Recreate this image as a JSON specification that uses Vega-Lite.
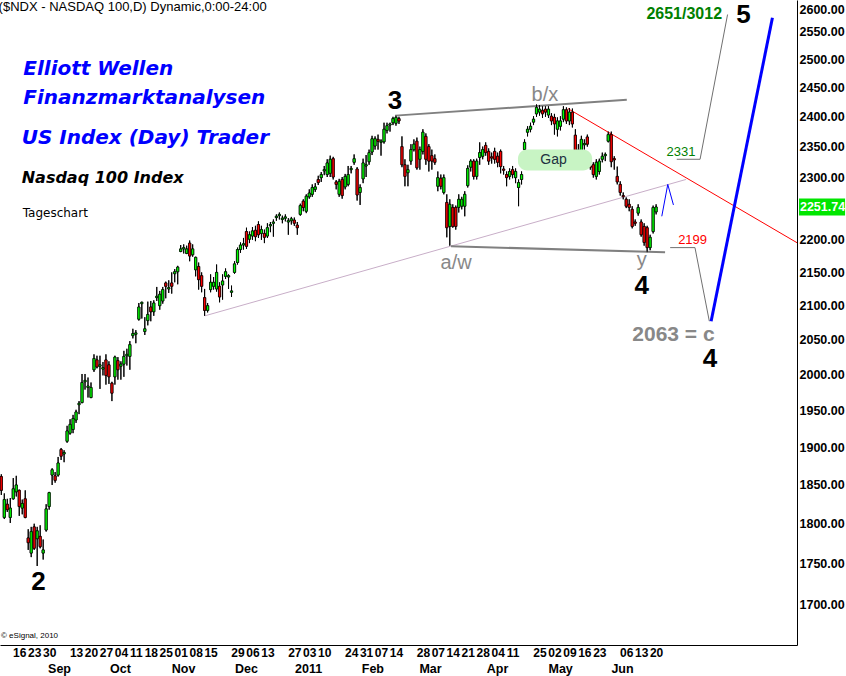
{
  "$schema": "https://vega.github.io/schema/vega-lite/v6.json",
  "width": 797,
  "height": 645,
  "autosize": {"type": "none"},
  "padding": {"left": 0, "top": 0, "right": 49, "bottom": 31},
  "background": "white",
  "config": {"view": {"stroke": null}, "text": {"font": "Liberation Sans"}, "axis": {"labelOverlap": false}},
  "resolve": {"axis": {"x": "independent"}},
  "datasets": {
    "candles": [
      {"i":0,"o":1861,"h":1864,"l":1837,"c":1843},{"i":1,"o":1808,"h":1839,"l":1806,"c":1831},{"i":2,"o":1825,"h":1832,"l":1815,"c":1818},{"i":3,"o":1808,"h":1833,"l":1801,"c":1820},{"i":4,"o":1832,"h":1859,"l":1831,"c":1845},{"i":5,"o":1841,"h":1862,"l":1835,"c":1850},{"i":6,"o":1843,"h":1844,"l":1810,"c":1822},{"i":7,"o":1820,"h":1831,"l":1812,"c":1826},{"i":8,"o":1832,"h":1843,"l":1807,"c":1808},{"i":9,"o":1782,"h":1793,"l":1767,"c":1776},
      {"i":10,"o":1763,"h":1796,"l":1758,"c":1790},{"i":11,"o":1796,"h":1800,"l":1767,"c":1769},{"i":12,"o":1781,"h":1796,"l":1747,"c":1791},{"i":13,"o":1784,"h":1798,"l":1769,"c":1771},{"i":14,"o":1763,"h":1780,"l":1755,"c":1767},{"i":15,"o":1792,"h":1825,"l":1790,"c":1819},{"i":16,"o":1822,"h":1841,"l":1818,"c":1840},{"i":17,"o":1863,"h":1872,"l":1850,"c":1870},{"i":18,"o":1862,"h":1867,"l":1853,"c":1856},{"i":19,"o":1863,"h":1887,"l":1861,"c":1879},
      {"i":20,"o":1897,"h":1899,"l":1883,"c":1888},{"i":21,"o":1891,"h":1896,"l":1880,"c":1893},{"i":22,"o":1908,"h":1929,"l":1906,"c":1922},{"i":23,"o":1919,"h":1938,"l":1917,"c":1931},{"i":24,"o":1924,"h":1944,"l":1919,"c":1939},{"i":25,"o":1937,"h":1951,"l":1933,"c":1948},{"i":26,"o":1958,"h":1963,"l":1945,"c":1960},{"i":27,"o":1961,"h":2001,"l":1960,"c":1989},{"i":28,"o":1990,"h":2001,"l":1979,"c":1992},{"i":29,"o":1982,"h":1996,"l":1968,"c":1984},
      {"i":30,"o":1968,"h":1989,"l":1967,"c":1982},{"i":31,"o":2007,"h":2029,"l":2004,"c":2023},{"i":32,"o":2021,"h":2027,"l":2009,"c":2011},{"i":33,"o":2012,"h":2027,"l":1980,"c":2014},{"i":34,"o":2008,"h":2018,"l":1999,"c":2010},{"i":35,"o":2021,"h":2029,"l":1986,"c":1999},{"i":36,"o":2014,"h":2019,"l":1987,"c":1997},{"i":37,"o":1988,"h":1990,"l":1963,"c":1974},{"i":38,"o":1997,"h":2027,"l":1986,"c":2025},{"i":39,"o":2020,"h":2025,"l":1993,"c":2007},
      {"i":40,"o":2012,"h":2019,"l":1993,"c":2015},{"i":41,"o":2015,"h":2034,"l":1997,"c":2026},{"i":42,"o":2027,"h":2037,"l":2013,"c":2029},{"i":43,"o":2026,"h":2048,"l":2007,"c":2043},{"i":44,"o":2056,"h":2066,"l":2052,"c":2059},{"i":45,"o":2058,"h":2064,"l":2045,"c":2060},{"i":46,"o":2080,"h":2104,"l":2078,"c":2098},{"i":47,"o":2103,"h":2106,"l":2081,"c":2105},{"i":48,"o":2062,"h":2083,"l":2057,"c":2066},{"i":49,"o":2078,"h":2106,"l":2071,"c":2087},
      {"i":50,"o":2098,"h":2107,"l":2077,"c":2091},{"i":51,"o":2091,"h":2108,"l":2085,"c":2104},{"i":52,"o":2112,"h":2128,"l":2107,"c":2114},{"i":53,"o":2100,"h":2122,"l":2094,"c":2117},{"i":54,"o":2107,"h":2128,"l":2103,"c":2124},{"i":55,"o":2134,"h":2136,"l":2111,"c":2129},{"i":56,"o":2125,"h":2138,"l":2119,"c":2127},{"i":57,"o":2134,"h":2150,"l":2118,"c":2129},{"i":58,"o":2148,"h":2155,"l":2135,"c":2151},{"i":59,"o":2151,"h":2160,"l":2132,"c":2158},
      {"i":60,"o":2182,"h":2192,"l":2181,"c":2186},{"i":61,"o":2186,"h":2193,"l":2179,"c":2188},{"i":62,"o":2179,"h":2191,"l":2178,"c":2186},{"i":63,"o":2195,"h":2199,"l":2167,"c":2175},{"i":64,"o":2177,"h":2193,"l":2174,"c":2186},{"i":65,"o":2154,"h":2174,"l":2144,"c":2173},{"i":66,"o":2159,"h":2165,"l":2124,"c":2139},{"i":67,"o":2145,"h":2150,"l":2120,"c":2129},{"i":68,"o":2112,"h":2125,"l":2085,"c":2093},{"i":69,"o":2093,"h":2104,"l":2090,"c":2100},
      {"i":70,"o":2124,"h":2147,"l":2120,"c":2135},{"i":71,"o":2129,"h":2143,"l":2124,"c":2135},{"i":72,"o":2125,"h":2162,"l":2121,"c":2150},{"i":73,"o":2129,"h":2135,"l":2105,"c":2113},{"i":74,"o":2131,"h":2147,"l":2109,"c":2137},{"i":75,"o":2144,"h":2156,"l":2140,"c":2151},{"i":76,"o":2143,"h":2147,"l":2125,"c":2145},{"i":77,"o":2120,"h":2130,"l":2113,"c":2122},{"i":78,"o":2150,"h":2167,"l":2148,"c":2163},{"i":79,"o":2165,"h":2188,"l":2162,"c":2185},
      {"i":80,"o":2185,"h":2196,"l":2180,"c":2192},{"i":81,"o":2192,"h":2203,"l":2185,"c":2194},{"i":82,"o":2213,"h":2219,"l":2186,"c":2190},{"i":83,"o":2201,"h":2213,"l":2195,"c":2208},{"i":84,"o":2206,"h":2220,"l":2200,"c":2214},{"i":85,"o":2215,"h":2222,"l":2198,"c":2205},{"i":86,"o":2224,"h":2229,"l":2203,"c":2208},{"i":87,"o":2210,"h":2222,"l":2200,"c":2216},{"i":88,"o":2210,"h":2216,"l":2195,"c":2204},{"i":89,"o":2206,"h":2226,"l":2203,"c":2219},
      {"i":90,"o":2222,"h":2228,"l":2212,"c":2224},{"i":91,"o":2226,"h":2232,"l":2205,"c":2228},{"i":92,"o":2235,"h":2240,"l":2230,"c":2237},{"i":93,"o":2238,"h":2243,"l":2232,"c":2240},{"i":94,"o":2232,"h":2238,"l":2226,"c":2234},{"i":95,"o":2234,"h":2240,"l":2229,"c":2236},{"i":96,"o":2228,"h":2234,"l":2208,"c":2230},{"i":97,"o":2230,"h":2236,"l":2224,"c":2233},{"i":98,"o":2231,"h":2235,"l":2222,"c":2226},{"i":99,"o":2223,"h":2228,"l":2208,"c":2219},
      {"i":100,"o":2240,"h":2257,"l":2238,"c":2254},{"i":101,"o":2261,"h":2264,"l":2245,"c":2251},{"i":102,"o":2245,"h":2272,"l":2242,"c":2269},{"i":103,"o":2268,"h":2280,"l":2265,"c":2274},{"i":104,"o":2272,"h":2288,"l":2268,"c":2283},{"i":105,"o":2280,"h":2290,"l":2276,"c":2284},{"i":106,"o":2296,"h":2302,"l":2287,"c":2291},{"i":107,"o":2299,"h":2308,"l":2292,"c":2304},{"i":108,"o":2310,"h":2318,"l":2303,"c":2312},{"i":109,"o":2304,"h":2329,"l":2300,"c":2323},
      {"i":110,"o":2306,"h":2335,"l":2300,"c":2329},{"i":111,"o":2330,"h":2333,"l":2296,"c":2300},{"i":112,"o":2292,"h":2295,"l":2280,"c":2288},{"i":113,"o":2272,"h":2297,"l":2268,"c":2293},{"i":114,"o":2296,"h":2300,"l":2265,"c":2270},{"i":115,"o":2284,"h":2305,"l":2280,"c":2301},{"i":116,"o":2288,"h":2318,"l":2285,"c":2304},{"i":117,"o":2312,"h":2318,"l":2306,"c":2314},{"i":118,"o":2324,"h":2337,"l":2320,"c":2330},{"i":119,"o":2313,"h":2316,"l":2262,"c":2271},
      {"i":120,"o":2275,"h":2288,"l":2255,"c":2283},{"i":121,"o":2297,"h":2330,"l":2290,"c":2323},{"i":122,"o":2318,"h":2336,"l":2300,"c":2320},{"i":123,"o":2325,"h":2345,"l":2320,"c":2340},{"i":124,"o":2341,"h":2368,"l":2336,"c":2363},{"i":125,"o":2351,"h":2367,"l":2345,"c":2363},{"i":126,"o":2362,"h":2370,"l":2345,"c":2359},{"i":127,"o":2357,"h":2362,"l":2335,"c":2359},{"i":128,"o":2358,"h":2390,"l":2355,"c":2379},{"i":129,"o":2377,"h":2390,"l":2372,"c":2385},
      {"i":130,"o":2386,"h":2390,"l":2375,"c":2388},{"i":131,"o":2390,"h":2400,"l":2386,"c":2397},{"i":132,"o":2389,"h":2402,"l":2385,"c":2399},{"i":133,"o":2397,"h":2400,"l":2388,"c":2393},{"i":134,"o":2350,"h":2367,"l":2316,"c":2320},{"i":135,"o":2320,"h":2329,"l":2285,"c":2301},{"i":136,"o":2307,"h":2320,"l":2285,"c":2312},{"i":137,"o":2326,"h":2354,"l":2320,"c":2345},{"i":138,"o":2345,"h":2362,"l":2342,"c":2354},{"i":139,"o":2359,"h":2365,"l":2312,"c":2315},
      {"i":140,"o":2329,"h":2350,"l":2312,"c":2345},{"i":141,"o":2342,"h":2379,"l":2337,"c":2374},{"i":142,"o":2367,"h":2372,"l":2320,"c":2329},{"i":143,"o":2350,"h":2354,"l":2309,"c":2326},{"i":144,"o":2335,"h":2345,"l":2312,"c":2326},{"i":145,"o":2330,"h":2337,"l":2320,"c":2324},{"i":146,"o":2285,"h":2309,"l":2277,"c":2299},{"i":147,"o":2298,"h":2304,"l":2280,"c":2285},{"i":148,"o":2275,"h":2304,"l":2272,"c":2299},{"i":149,"o":2259,"h":2272,"l":2204,"c":2219},
      {"i":150,"o":2221,"h":2264,"l":2191,"c":2256},{"i":151,"o":2251,"h":2256,"l":2219,"c":2221},{"i":152,"o":2251,"h":2254,"l":2216,"c":2221},{"i":153,"o":2251,"h":2272,"l":2243,"c":2264},{"i":154,"o":2253,"h":2268,"l":2248,"c":2264},{"i":155,"o":2253,"h":2277,"l":2237,"c":2272},{"i":156,"o":2286,"h":2319,"l":2283,"c":2314},{"i":157,"o":2316,"h":2329,"l":2309,"c":2326},{"i":158,"o":2326,"h":2329,"l":2296,"c":2301},{"i":159,"o":2301,"h":2330,"l":2296,"c":2326},
      {"i":160,"o":2332,"h":2357,"l":2320,"c":2340},{"i":161,"o":2334,"h":2350,"l":2329,"c":2345},{"i":162,"o":2352,"h":2357,"l":2335,"c":2340},{"i":163,"o":2342,"h":2347,"l":2320,"c":2326},{"i":164,"o":2333,"h":2340,"l":2322,"c":2331},{"i":165,"o":2342,"h":2348,"l":2322,"c":2329},{"i":166,"o":2334,"h":2340,"l":2316,"c":2324},{"i":167,"o":2342,"h":2345,"l":2306,"c":2317},{"i":168,"o":2313,"h":2318,"l":2304,"c":2311},{"i":169,"o":2304,"h":2309,"l":2285,"c":2299},
      {"i":170,"o":2301,"h":2314,"l":2296,"c":2309},{"i":171,"o":2312,"h":2318,"l":2298,"c":2304},{"i":172,"o":2299,"h":2314,"l":2290,"c":2309},{"i":173,"o":2283,"h":2296,"l":2253,"c":2291},{"i":174,"o":2296,"h":2309,"l":2288,"c":2304},{"i":175,"o":2345,"h":2362,"l":2342,"c":2357},{"i":176,"o":2374,"h":2384,"l":2367,"c":2379},{"i":177,"o":2379,"h":2390,"l":2374,"c":2384},{"i":178,"o":2391,"h":2401,"l":2386,"c":2396},{"i":179,"o":2405,"h":2421,"l":2400,"c":2416},
      {"i":180,"o":2408,"h":2420,"l":2402,"c":2413},{"i":181,"o":2411,"h":2418,"l":2398,"c":2405},{"i":182,"o":2413,"h":2418,"l":2400,"c":2408},{"i":183,"o":2403,"h":2418,"l":2398,"c":2413},{"i":184,"o":2401,"h":2406,"l":2386,"c":2393},{"i":185,"o":2399,"h":2405,"l":2370,"c":2388},{"i":186,"o":2379,"h":2399,"l":2367,"c":2393},{"i":187,"o":2384,"h":2401,"l":2377,"c":2393},{"i":188,"o":2396,"h":2418,"l":2391,"c":2412},{"i":189,"o":2412,"h":2416,"l":2388,"c":2393},
      {"i":190,"o":2393,"h":2415,"l":2386,"c":2408},{"i":191,"o":2408,"h":2414,"l":2382,"c":2388},{"i":192,"o":2369,"h":2379,"l":2329,"c":2340},{"i":193,"o":2326,"h":2354,"l":2322,"c":2344},{"i":194,"o":2342,"h":2368,"l":2337,"c":2362},{"i":195,"o":2353,"h":2362,"l":2345,"c":2355},{"i":196,"o":2366,"h":2370,"l":2350,"c":2354},{"i":197,"o":2318,"h":2325,"l":2312,"c":2316},{"i":198,"o":2320,"h":2324,"l":2299,"c":2304},{"i":199,"o":2301,"h":2329,"l":2296,"c":2324},
      {"i":200,"o":2309,"h":2330,"l":2304,"c":2326},{"i":201,"o":2329,"h":2340,"l":2324,"c":2334},{"i":202,"o":2335,"h":2340,"l":2326,"c":2337},{"i":203,"o":2359,"h":2375,"l":2357,"c":2370},{"i":204,"o":2370,"h":2375,"l":2316,"c":2325},{"i":205,"o":2330,"h":2334,"l":2312,"c":2328},{"i":206,"o":2301,"h":2317,"l":2288,"c":2292},{"i":207,"o":2288,"h":2293,"l":2270,"c":2275},{"i":208,"o":2270,"h":2275,"l":2264,"c":2268},{"i":209,"o":2264,"h":2267,"l":2250,"c":2253},
      {"i":210,"o":2256,"h":2264,"l":2245,"c":2251},{"i":211,"o":2248,"h":2253,"l":2218,"c":2221},{"i":212,"o":2228,"h":2232,"l":2222,"c":2226},{"i":213,"o":2242,"h":2256,"l":2238,"c":2251},{"i":214,"o":2228,"h":2232,"l":2205,"c":2208},{"i":215,"o":2221,"h":2226,"l":2191,"c":2196},{"i":216,"o":2219,"h":2222,"l":2181,"c":2188},{"i":217,"o":2188,"h":2208,"l":2184,"c":2204},{"i":218,"o":2213,"h":2254,"l":2210,"c":2251},{"i":219,"o":2244,"h":2256,"l":2240,"c":2251.74}
    ]
  },
  "layer": [
    {
      "data": {"name": "candles"},
      "mark": {"type": "rule", "color": "#000000", "strokeWidth": 1},
      "encoding": {
        "x": {"field": "i", "type": "quantitative", "scale": {"domain": [-0.435, 266.12], "nice": false, "zero": false, "padding": 0},
          "axis": {
            "title": null, "orient": "bottom", "grid": false, "ticks": false, "tickSize": 0,
            "domainColor": "#000000", "domainWidth": 1,
            "values": [6,11,16,25,30,35,40,45,50,55,60,65,70,79,84,89,98,103,108,117,122,127,132,141,146,151,156,161,166,171,180,185,190,195,200,209,214,219],
            "labelExpr": "['16','23','30','13','20','27','04','11','18','25','01','08','15','29','06','13','27','03','10','24','31','07','14','28','07','14','21','28','04','11','25','02','09','16','23','06','13','20'][indexof([6,11,16,25,30,35,40,45,50,55,60,65,70,79,84,89,98,103,108,117,122,127,132,141,146,151,156,161,166,171,180,185,190,195,200,209,214,219], datum.value)]",
            "labelFont": "Liberation Sans", "labelFontSize": 12, "labelFontWeight": "bold", "labelColor": "#000000",
            "labelPadding": 2, "labelOverlap": false, "labelBound": false, "labelFlush": false, "labelAngle": 0
          }
        },
        "y": {"field": "l", "type": "quantitative", "scale": {"type": "log", "domain": [1652.1, 2606.6], "nice": false, "padding": 0},
          "axis": {
            "title": null, "orient": "right", "grid": false, "ticks": false, "tickSize": 0,
            "domainColor": "#000000", "domainWidth": 1,
            "values": [1700,1750,1800,1850,1900,1950,2000,2050,2100,2150,2200,2250,2300,2350,2400,2450,2500,2550,2600],
            "format": ".2f",
            "labelFont": "Liberation Sans", "labelFontSize": 12.5, "labelFontWeight": "bold", "labelColor": "#000000",
            "labelPadding": 2, "labelOverlap": false, "labelBound": false, "labelFlush": 5
          }
        },
        "y2": {"field": "h"}
      }
    },
    {
      "data": {"name": "candles"},
      "mark": {"type": "bar", "width": 2.2, "stroke": "#000000", "strokeWidth": 0.7},
      "encoding": {
        "x": {"field": "i", "type": "quantitative",
          "axis": {
            "title": null, "orient": "bottom", "grid": false, "ticks": false, "tickSize": 0, "domain": false,
            "values": [19.3,39.7,60.8,81.8,102.6,124.1,143.4,165.8,186.9,207.6],
            "labelExpr": "['Sep','Oct','Nov','Dec','2011','Feb','Mar','Apr','May','Jun'][indexof([19.3,39.7,60.8,81.8,102.6,124.1,143.4,165.8,186.9,207.6], datum.value)]",
            "labelFont": "Liberation Sans", "labelFontSize": 12.5, "labelFontWeight": "bold", "labelColor": "#000000",
            "labelPadding": 17, "labelOverlap": false, "labelBound": false, "labelFlush": false, "labelAngle": 0
          }
        },
        "y": {"field": "o", "type": "quantitative"},
        "y2": {"field": "c"},
        "color": {"condition": {"test": "datum.c >= datum.o", "value": "#00ff00"}, "value": "#ff0000"}
      }
    },
    {
      "data": {"values": [{"i":68.1,"p":2085},{"i":229.0,"p":2296}]},
      "mark": {"type": "line", "color": "#c8aec8", "strokeWidth": 1},
      "encoding": {
        "x": {"field": "i", "type": "quantitative", "axis": null},
        "y": {"field": "p", "type": "quantitative"}
      }
    },
    {
      "data": {"values": [{"i":131.7,"p":2402},{"i":209.2,"p":2429}]},
      "mark": {"type": "line", "color": "#808080", "strokeWidth": 2},
      "encoding": {
        "x": {"field": "i", "type": "quantitative", "axis": null},
        "y": {"field": "p", "type": "quantitative"}
      }
    },
    {
      "data": {"values": [{"i":150.4,"p":2190},{"i":222.0,"p":2181}]},
      "mark": {"type": "line", "color": "#808080", "strokeWidth": 2},
      "encoding": {
        "x": {"field": "i", "type": "quantitative", "axis": null},
        "y": {"field": "p", "type": "quantitative"}
      }
    },
    {
      "data": {"values": [{"i":189.5,"p":2414},{"i":266.12,"p":2195.6}]},
      "mark": {"type": "line", "color": "#ff0000", "strokeWidth": 1},
      "encoding": {
        "x": {"field": "i", "type": "quantitative", "axis": null},
        "y": {"field": "p", "type": "quantitative"}
      }
    },
    {
      "data": {"name": "candles"},
      "mark": {"type": "rule", "color": "#000000", "strokeWidth": 1},
      "encoding": {
        "x": {"field": "i", "type": "quantitative", "axis": null},
        "y": {"field": "l", "type": "quantitative"},
        "y2": {"field": "h"}
      }
    },
    {
      "data": {"name": "candles"},
      "mark": {"type": "bar", "width": 2.2, "stroke": "#000000", "strokeWidth": 0.7},
      "encoding": {
        "x": {"field": "i", "type": "quantitative", "axis": null},
        "y": {"field": "o", "type": "quantitative"},
        "y2": {"field": "c"},
        "color": {"condition": {"test": "datum.c >= datum.o", "value": "#00ff00"}, "value": "#ff0000"}
      }
    },
    {
      "data": {"values": [{"i1":172.8,"i2":197.6,"p1":2310.7,"p2":2345.3}]},
      "mark": {"type": "rect", "color": "#c8f4c4", "cornerRadius": 9},
      "encoding": {
        "x": {"field": "i1", "type": "quantitative", "axis": null},
        "x2": {"field": "i2"},
        "y": {"field": "p1", "type": "quantitative"},
        "y2": {"field": "p2"}
      }
    },
    {
      "data": {"values": [{"i":225.9,"p":2329},{"i":233.7,"p":2329},{"i":242.9,"p":2580}]},
      "mark": {"type": "line", "color": "#707070", "strokeWidth": 1},
      "encoding": {
        "x": {"field": "i", "type": "quantitative", "axis": null},
        "y": {"field": "p", "type": "quantitative"}
      }
    },
    {
      "data": {"values": [{"i":223.7,"p":2188},{"i":232.0,"p":2188},{"i":236.8,"p":2077}]},
      "mark": {"type": "line", "color": "#707070", "strokeWidth": 1},
      "encoding": {
        "x": {"field": "i", "type": "quantitative", "axis": null},
        "y": {"field": "p", "type": "quantitative"}
      }
    },
    {
      "data": {"values": [{"i":220.9,"p":2237},{"i":222.9,"p":2288},{"i":224.8,"p":2255}]},
      "mark": {"type": "line", "color": "#0000ff", "strokeWidth": 1},
      "encoding": {
        "x": {"field": "i", "type": "quantitative", "axis": null},
        "y": {"field": "p", "type": "quantitative"}
      }
    },
    {
      "data": {"values": [{"i":237.4,"p":2077},{"i":257.9,"p":2574}]},
      "mark": {"type": "line", "color": "#0000ff", "strokeWidth": 3},
      "encoding": {
        "x": {"field": "i", "type": "quantitative", "axis": null},
        "y": {"field": "p", "type": "quantitative"}
      }
    },
    {
      "data": {"values": [{"t":"($NDX - NASDAQ 100,D) Dynamic,0:00-24:00","i":-0.9,"p":2594}]},
      "mark": {"type": "text", "align": "left", "baseline": "middle", "font": "Liberation Sans", "fontSize": 13, "color": "#000000"},
      "encoding": {
        "x": {"field": "i", "type": "quantitative", "axis": null},
        "y": {"field": "p", "type": "quantitative"},
        "text": {"field": "t"}
      }
    },
    {
      "data": {"values": [{"t":"Elliott Wellen","i":7.36,"p":2483},{"t":"Finanzmarktanalysen","i":7.36,"p":2431.5},{"t":"US Index (Day) Trader","i":6.82,"p":2365}]},
      "mark": {"type": "text", "align": "left", "baseline": "middle", "font": "DejaVu Sans", "fontSize": 20, "fontWeight": "bold", "fontStyle": "italic", "color": "#0000ff"},
      "encoding": {
        "x": {"field": "i", "type": "quantitative", "axis": null},
        "y": {"field": "p", "type": "quantitative"},
        "text": {"field": "t"}
      }
    },
    {
      "data": {"values": [{"t":"Nasdaq 100 Index","i":6.82,"p":2297.7}]},
      "mark": {"type": "text", "align": "left", "baseline": "middle", "font": "DejaVu Sans", "fontSize": 16, "fontWeight": "bold", "fontStyle": "italic", "color": "#000000"},
      "encoding": {
        "x": {"field": "i", "type": "quantitative", "axis": null},
        "y": {"field": "p", "type": "quantitative"},
        "text": {"field": "t"}
      }
    },
    {
      "data": {"values": [{"t":"Tageschart","i":7.16,"p":2243}]},
      "mark": {"type": "text", "align": "left", "baseline": "middle", "font": "DejaVu Sans", "fontSize": 12, "color": "#000000"},
      "encoding": {
        "x": {"field": "i", "type": "quantitative", "axis": null},
        "y": {"field": "p", "type": "quantitative"},
        "text": {"field": "t"}
      }
    },
    {
      "data": {"values": [{"t":"© eSignal, 2010","i":-0.1,"p":1663}]},
      "mark": {"type": "text", "align": "left", "baseline": "middle", "font": "Liberation Sans", "fontSize": 8, "color": "#000000"},
      "encoding": {
        "x": {"field": "i", "type": "quantitative", "axis": null},
        "y": {"field": "p", "type": "quantitative"},
        "text": {"field": "t"}
      }
    },
    {
      "data": {"values": [{"t":"2","i":12.4,"p":1727},{"t":"3","i":131.7,"p":2427},{"t":"4","i":214.2,"p":2129},{"t":"5","i":248.2,"p":2580},{"t":"4","i":237.0,"p":2023}]},
      "mark": {"type": "text", "align": "center", "baseline": "middle", "font": "Liberation Sans", "fontSize": 26, "fontWeight": "bold", "color": "#000000"},
      "encoding": {
        "x": {"field": "i", "type": "quantitative", "axis": null},
        "y": {"field": "p", "type": "quantitative"},
        "text": {"field": "t"}
      }
    },
    {
      "data": {"values": [{"t":"b/x","i":181.8,"p":2438},{"t":"a/w","i":152.1,"p":2164.7},{"t":"y","i":214.2,"p":2168.6}]},
      "mark": {"type": "text", "align": "center", "baseline": "middle", "font": "Liberation Sans", "fontSize": 20, "color": "#888888"},
      "encoding": {
        "x": {"field": "i", "type": "quantitative", "axis": null},
        "y": {"field": "p", "type": "quantitative"},
        "text": {"field": "t"}
      }
    },
    {
      "data": {"values": [{"t":"2063 = c","i":224.8,"p":2057}]},
      "mark": {"type": "text", "align": "center", "baseline": "middle", "font": "Liberation Sans", "fontSize": 21, "fontWeight": "bold", "color": "#888888"},
      "encoding": {
        "x": {"field": "i", "type": "quantitative", "axis": null},
        "y": {"field": "p", "type": "quantitative"},
        "text": {"field": "t"}
      }
    },
    {
      "data": {"values": [{"t":"2651/3012","i":228.4,"p":2581}]},
      "mark": {"type": "text", "align": "center", "baseline": "middle", "font": "Liberation Sans", "fontSize": 16, "fontWeight": "bold", "color": "#008000"},
      "encoding": {
        "x": {"field": "i", "type": "quantitative", "axis": null},
        "y": {"field": "p", "type": "quantitative"},
        "text": {"field": "t"}
      }
    },
    {
      "data": {"values": [{"t":"2331","i":227.3,"p":2341}]},
      "mark": {"type": "text", "align": "center", "baseline": "middle", "font": "Liberation Sans", "fontSize": 13, "color": "#008000"},
      "encoding": {
        "x": {"field": "i", "type": "quantitative", "axis": null},
        "y": {"field": "p", "type": "quantitative"},
        "text": {"field": "t"}
      }
    },
    {
      "data": {"values": [{"t":"2199","i":231.2,"p":2199.4}]},
      "mark": {"type": "text", "align": "center", "baseline": "middle", "font": "Liberation Sans", "fontSize": 13, "color": "#ff0000"},
      "encoding": {
        "x": {"field": "i", "type": "quantitative", "axis": null},
        "y": {"field": "p", "type": "quantitative"},
        "text": {"field": "t"}
      }
    },
    {
      "data": {"values": [{"t":"Gap","i":184.7,"p":2328}]},
      "mark": {"type": "text", "align": "center", "baseline": "middle", "font": "Liberation Sans", "fontSize": 14, "color": "#203040"},
      "encoding": {
        "x": {"field": "i", "type": "quantitative", "axis": null},
        "y": {"field": "p", "type": "quantitative"},
        "text": {"field": "t"}
      }
    },
    {
      "data": {"values": [{"i1":266.8,"i2":282.2,"p1":2238.4,"p2":2265.5}]},
      "mark": {"type": "rect", "color": "#00e600"},
      "encoding": {
        "x": {"field": "i1", "type": "quantitative", "axis": null},
        "x2": {"field": "i2"},
        "y": {"field": "p1", "type": "quantitative"},
        "y2": {"field": "p2"}
      }
    },
    {
      "data": {"values": [{"t":"2251.74","i":267.1,"p":2251.74}]},
      "mark": {"type": "text", "align": "left", "baseline": "middle", "font": "Liberation Sans", "fontSize": 12.5, "fontWeight": "bold", "color": "#ffffff"},
      "encoding": {
        "x": {"field": "i", "type": "quantitative", "axis": null},
        "y": {"field": "p", "type": "quantitative"},
        "text": {"field": "t"}
      }
    }
  ]
}
